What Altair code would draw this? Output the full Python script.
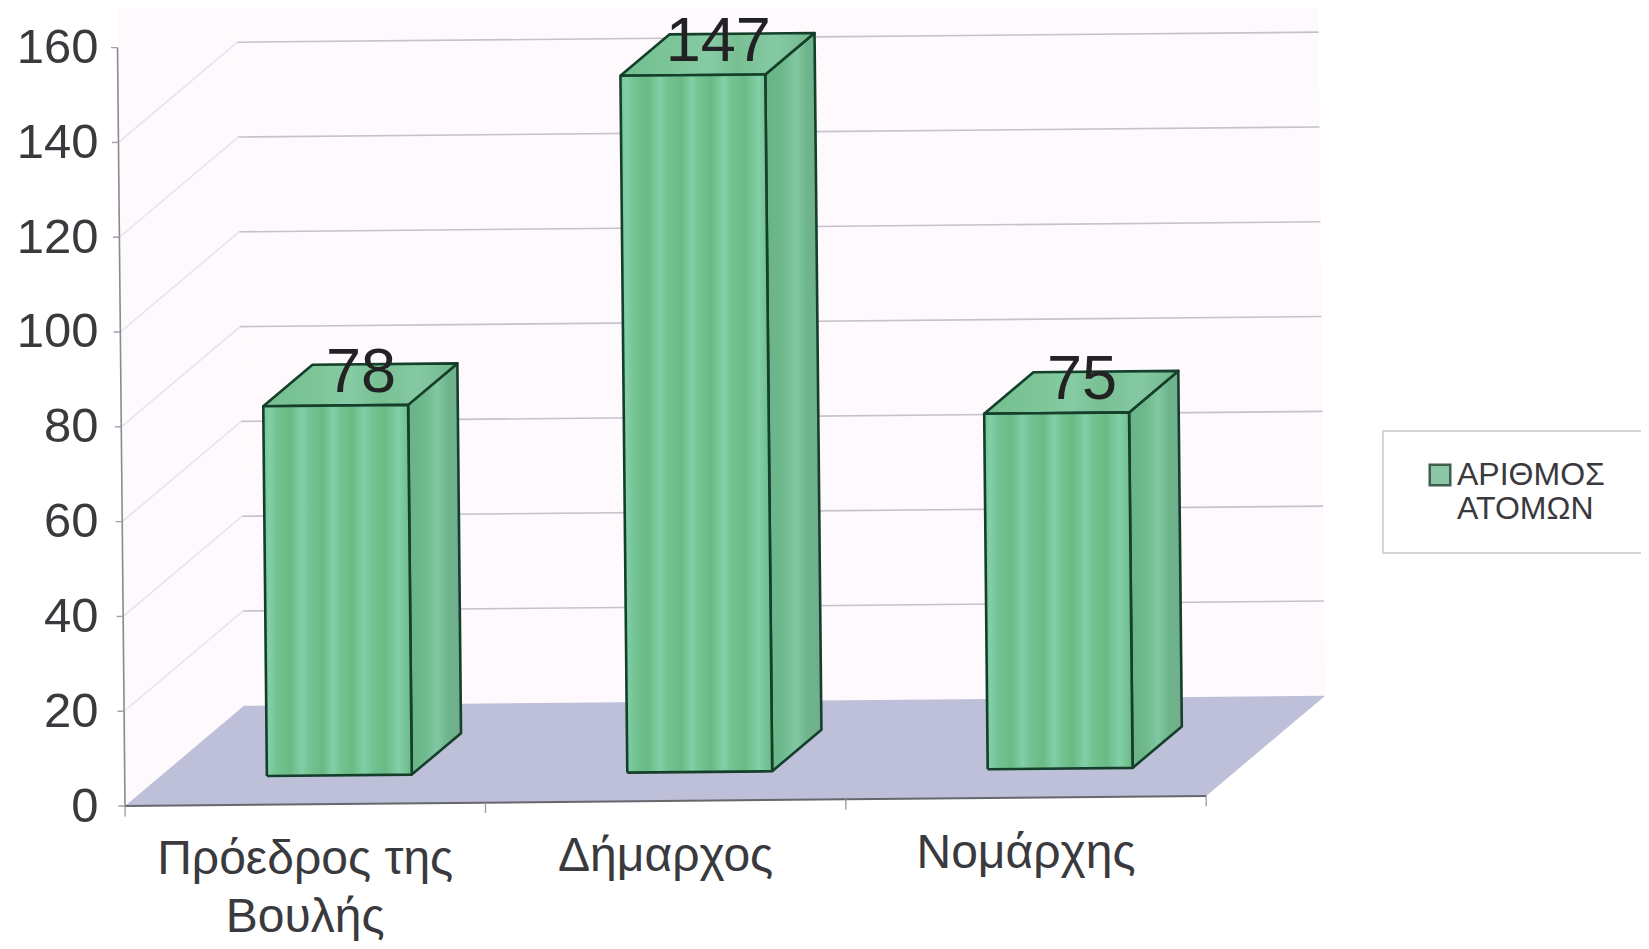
import altair as alt
import pandas as pd

# ---- values
categories = ["Πρόεδρος της\nΒουλής", "Δήμαρχος", "Νομάρχης"]
persons = [78, 147, 75]
series_name = "ΑΡΙΘΜΟΣ ΑΤΟΜΩΝ"
y_ticks = [0, 20, 40, 60, 80, 100, 120, 140, 160]
wall_lines = [20, 40, 60, 80, 100, 120, 140]

FONT = "Liberation Sans"
U_DOMAIN = [-0.0694, 4.2064]
V_DOMAIN = [-28.48, 168.35]

# oblique projection of the 3-D box (category, depth, value) on the page
DEPTH_U, DEPTH_V = 0.33, 20.9
TILT_V, TILT_U = 0.707, -0.00013


def pr(u, d, v):
    return (u + DEPTH_U * d + TILT_U * v,
            v + DEPTH_V * d + TILT_V * (u + DEPTH_U * d))


def frame(points):
    rows = []
    for i, (u, d, v) in enumerate(points):
        U, V = pr(u, d, v)
        rows.append({"U": U, "V": V, "i": i})
    return pd.DataFrame(rows)


xs = alt.Scale(domain=U_DOMAIN, nice=False, zero=False)
ys = alt.Scale(domain=V_DOMAIN, nice=False, zero=False)
X = alt.X("U:Q", scale=xs, axis=None)
Y = alt.Y("V:Q", scale=ys, title=None, axis=alt.Axis(
    values=y_ticks, grid=False, domain=False, ticks=False, labelPadding=2,
    labelFont=FONT, labelFontSize=49, labelColor="#3A3A3E"))


def poly(points, fill=None, stroke=None, width=1.0, opacity=1.0):
    props = dict(clip=True, strokeJoin="round", strokeOpacity=opacity)
    if fill is not None:
        props["fill"] = fill
    props["stroke"] = stroke if stroke else "transparent"
    props["strokeWidth"] = width
    return alt.Chart(frame(points)).mark_line(**props).encode(x=X, y=Y, order="i:Q")


def stripes(stops):
    return alt.Gradient(
        gradient="linear", x1=0, x2=1, y1=0, y2=0,
        stops=[alt.GradientStop(offset=o, color=c) for o, c in stops],
    )


L, M, D = "#82CFA8", "#74C393", "#6ABA85"
FRONT = stripes([(0, M), (.04, L), (.09, M), (.18, D), (.26, L), (.31, M), (.40, D),
                 (.47, L), (.52, M), (.60, D), (.68, L), (.73, M), (.82, D), (.91, L), (.96, M), (1, D)])
SIDE = stripes([(0, "#6AB288"), (.3, "#6EB98C"), (.55, "#82C7A3"), (.75, "#6DB58B"), (1, "#72AD90")])
TOP = stripes([(0, "#74BE91"), (.25, "#7CC597"), (.45, "#86CBA4"), (.6, "#78C093"),
               (.8, "#85C9A3"), (1, "#70B78A")])
EDGE = "#143F2B"

WALL = "#FEF9FD"
layers = [
    poly([(0, 0, 0), (0, 0, 170), (0, 1, 170), (0, 1, 0), (0, 0, 0)], fill=WALL),
    poly([(0, 1, 0), (0, 1, 170), (3, 1, 170), (3, 1, 0), (0, 1, 0)], fill=WALL),
    poly([(0, 0, 0), (3, 0, 0), (3, 1, 0), (0, 1, 0), (0, 0, 0)], fill="#BEBFD8"),
]
for v in wall_lines:
    layers.append(poly([(0, 0, v), (0, 1, v)], stroke="#E8E0EA", width=1.4))
    layers.append(poly([(0, 1, v), (3, 1, v)], stroke="#C6C1CC", width=1.6))

for k, v in enumerate(persons):
    a, b, d0, d1 = k + .298, k + .700, .29, .704
    layers.append(poly([(b, d0, 0), (b, d1, 0), (b, d1, v), (b, d0, v), (b, d0, 0)],
                       fill=SIDE, stroke=EDGE, width=2.6))
    layers.append(poly([(a, d0, v), (b, d0, v), (b, d1, v), (a, d1, v), (a, d0, v)],
                       fill=TOP, stroke=EDGE, width=2.6))
    layers.append(poly([(a, d0, 0), (b, d0, 0), (b, d0, v), (a, d0, v), (a, d0, 0)],
                       fill=FRONT, stroke=EDGE, width=2.6))

# axis lines and ticks on the front of the box
layers.append(poly([(0, 0, 0), (0, 0, 160)], stroke="#8A8992", width=1.6))
layers.append(poly([(0, 0, 0), (3, 0, 0)], stroke="#66666D", width=2))
for v in y_ticks:
    layers.append(poly([(-.018, 0, v), (0, 0, v)], stroke="#A0A0A6", width=1.4))
for u in range(4):
    layers.append(poly([(u, 0, 0), (u, 0, -2.2)], stroke="#A0A0A6", width=1.4))

# category labels
cat_df = pd.DataFrame([
    dict(zip(("U", "V"), pr(k + .5, 0, 0)), name=c) for k, c in enumerate(categories)
])
layers.append(
    alt.Chart(cat_df).mark_text(
        font=FONT, fontSize=48, color="#3A3A3E", baseline="top", dy=32,
        lineBreak="\n", lineHeight=58, align="center",
    ).encode(x=X, y=Y, text="name:N")
)

# value labels
val_df = pd.DataFrame([
    dict(zip(("U", "V"), pr(k + .5, .5, v)), value=v) for k, v in enumerate(persons)
])
layers.append(
    alt.Chart(val_df).mark_text(
        font=FONT, fontSize=63, color="#222225", dx=0, dy=-12, baseline="middle",
    ).encode(x=X, y=Y, text="value:Q")
)

# legend box and legend
box_df = pd.DataFrame({"U": [0.0], "V": [0.0]})
layers.append(
    alt.Chart(box_df).mark_rect(fill="white", stroke="#D6D6D6", strokeWidth=2).encode(
        x=alt.value(1283), x2=alt.value(1560), y=alt.value(423), y2=alt.value(545))
)
leg_df = pd.DataFrame({"U": [1.5], "V": [50], "series": [series_name]})
layers.append(
    alt.Chart(leg_df).mark_square(opacity=0, size=10).encode(
        x=X, y=Y,
        color=alt.Color("series:N", scale=alt.Scale(range=["#8CC6A6"]), legend=alt.Legend(
            title=None, orient="none", legendX=1324, legendY=451, padding=0,
            labelFont=FONT, labelFontSize=32, labelColor="#3A3A3E", labelLimit=300,
            labelExpr="['ΑΡΙΘΜΟΣ', 'ΑΤΟΜΩΝ']", labelOffset=1,
            symbolType="square", symbolSize=420, symbolOpacity=1,
            symbolStrokeColor="#3F5F4F", symbolStrokeWidth=2.5)),
    )
)

chart = alt.layer(*layers).properties(
    width=1541, height=933, background="white",
    padding={"left": 92, "top": 0, "right": 0, "bottom": 0},
    autosize=alt.AutoSizeParams(type="none"),
).configure_view(strokeWidth=0, strokeOpacity=0, fill="white")

chart.save("out.html", embed_options={"renderer": "svg", "actions": False})
